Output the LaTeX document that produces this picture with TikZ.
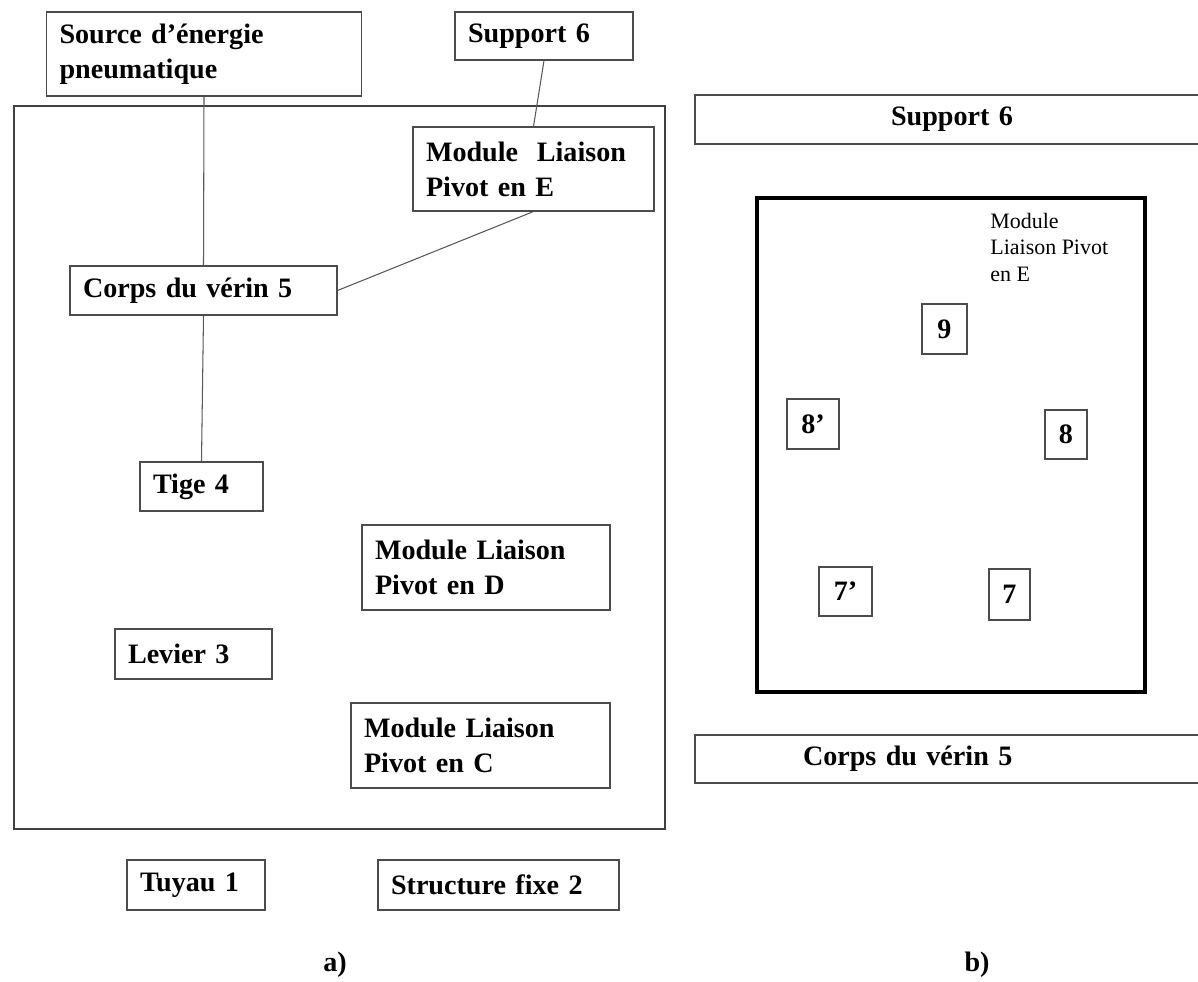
\documentclass[tikz,border=0pt]{standalone}
\usepackage{fontspec}
\setmainfont{Liberation Serif}
\usepackage{xcolor}

\begin{document}
\begin{tikzpicture}[
  boite/.style={draw=black!70, line width=0.6pt, inner xsep=0.26cm, inner ysep=0pt,
    align=left, font=\bfseries\fontsize{16}{19.9}\selectfont},
  num/.style={draw=black!70, line width=0.6pt, inner sep=0pt,
    font=\bfseries\fontsize{16}{19}\selectfont},
  lien/.style={draw=black!65, line width=0.6pt},
  cadre/.style={draw=black!75, line width=0.6pt},
  legende/.style={font=\bfseries\fontsize{16}{19}\selectfont}]
\useasboundingbox (0,0) rectangle (23.96,-19.62);
\fill[white] (0,0) rectangle (23.96,-19.62);

% a)
\draw[cadre] (0.28,-2.12) rectangle (13.30,-16.58);
\node[boite, text width=5.78cm, minimum height=1.68cm] (source) at (4.08,-1.08) {Source d’énergie\\pneumatique};
\node[boite, text width=3.04cm, minimum height=0.96cm] (supA) at (10.88,-0.72) {Support 6};
\node[boite, text width=4.30cm, minimum height=1.68cm] (modE) at (10.67,-3.38) {Module\ \ Liaison\\Pivot en E};
\node[boite, text width=4.82cm, minimum height=0.98cm] (corpsA) at (4.07,-5.81) {Corps du vérin 5};
\node[boite, text width=1.94cm, minimum height=0.98cm] (tige) at (4.03,-9.73) {Tige 4};
\node[boite, text width=4.44cm, minimum height=1.70cm] (modD) at (9.72,-11.35) {Module Liaison\\Pivot en D};
\node[boite, text width=2.62cm, minimum height=1.00cm] (levier) at (3.87,-13.08) {Levier 3};
\node[boite, text width=4.66cm, minimum height=1.70cm] (modC) at (9.61,-14.91) {Module Liaison\\Pivot en C};
\node[boite, text width=2.24cm, minimum height=1.00cm] (tuyau) at (3.92,-17.70) {Tuyau 1};
\node[boite, text width=4.30cm, minimum height=1.00cm] (struct) at (9.97,-17.70) {Structure fixe 2};
\draw[lien] (source.south) -- (corpsA.north);
\draw[lien] (corpsA.south) -- (tige.north);
\draw[lien] (supA.south) -- (modE.north);
\draw[lien] (modE.south) -- (corpsA.east);
\node[legende] (legA) at (6.70,-19.30) {a)};

% b)
\node[boite, text width=9.76cm, align=center, minimum height=0.98cm] (supB) at (19.04,-2.39) {Support 6};
\draw[black, line width=2.3pt] (15.14,-3.96) rectangle (22.90,-13.84);
\node[anchor=north west, inner sep=0pt, align=left, font=\fontsize{12.5}{15}\selectfont] (modEtxt) at (19.80,-4.26) {Module\\Liaison Pivot\\en E};
\node[num, minimum width=0.90cm, minimum height=1.00cm] (n9) at (18.89,-6.58) {9};
\node[num, minimum width=1.04cm, minimum height=1.00cm] (n8p) at (16.26,-8.48) {8’};
\node[num, minimum width=0.84cm, minimum height=0.98cm] (n8) at (21.32,-8.69) {8};
\node[num, minimum width=1.06cm, minimum height=0.98cm] (n7p) at (16.91,-11.83) {7’};
\node[num, minimum width=0.82cm, minimum height=1.02cm] (n7) at (20.19,-11.89) {7};
\node[boite, text width=5.96cm, inner xsep=2.16cm, minimum height=0.96cm] (corpsB) at (19.04,-15.18) {Corps du vérin 5};
\node[legende] (legB) at (19.54,-19.30) {b)};
\end{tikzpicture}
\end{document}
